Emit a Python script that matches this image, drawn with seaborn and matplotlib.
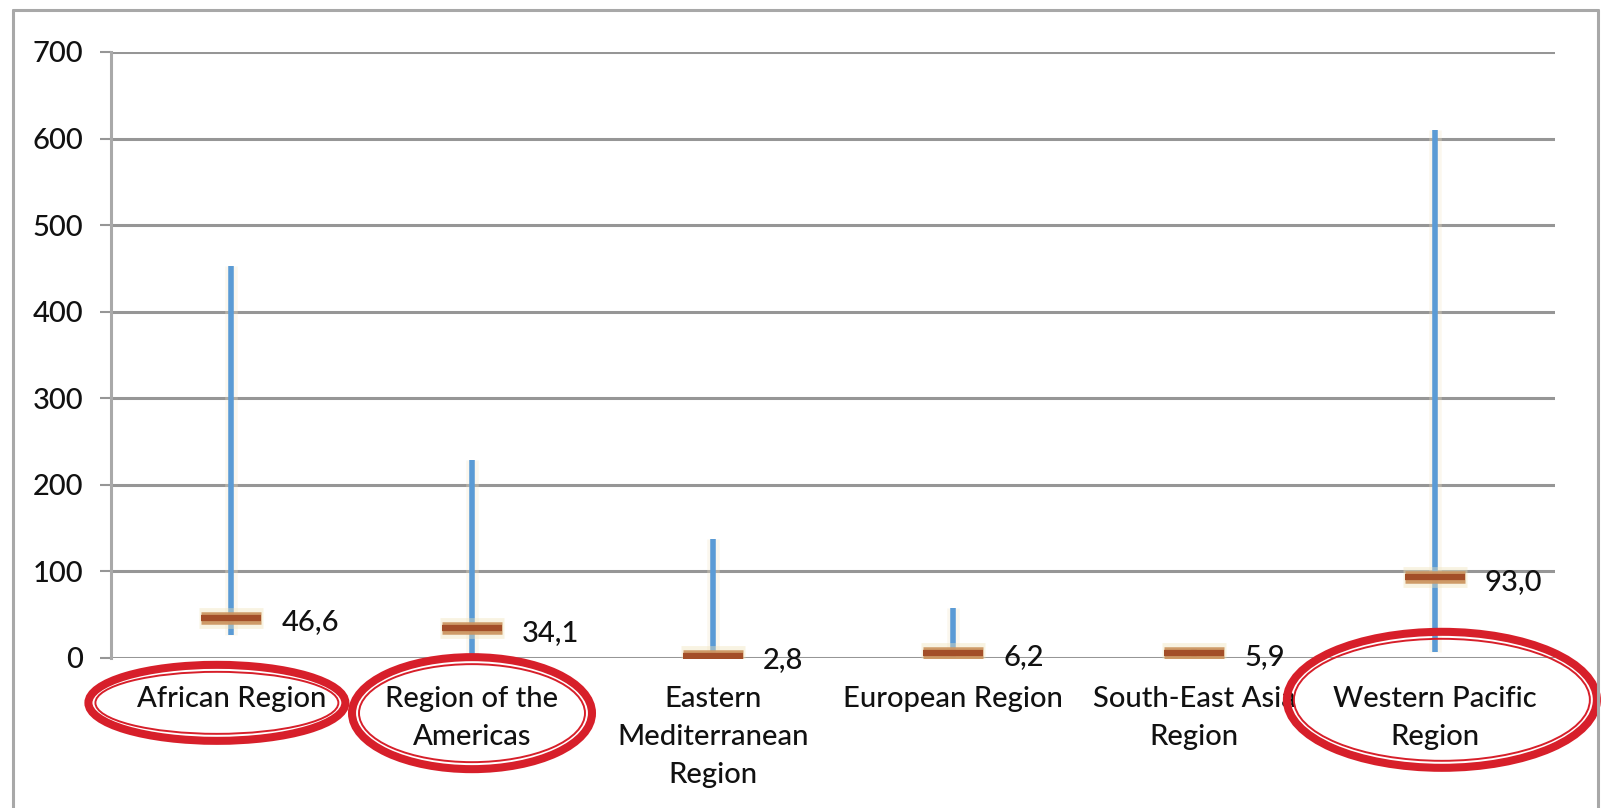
import matplotlib
matplotlib.use("Agg")
import matplotlib.pyplot as plt
import matplotlib.transforms as mtransforms
from matplotlib.patches import Ellipse
from matplotlib.lines import Line2D
import seaborn as sns
import pandas as pd

# Range (min-max) and median per WHO region
regions = ["African Region", "Region of the\nAmericas", "Eastern\nMediterranean\nRegion",
           "European Region", "South-East Asia\nRegion", "Western Pacific\nRegion"]
low_vals = [26, 5, 0.3, 0.5, 1.5, 7]
high_vals = [453, 229, 137, 58, 10, 610]
median_vals = [46.6, 34.1, 2.8, 6.2, 5.9, 93.0]
y_ticks = [0, 100, 200, 300, 400, 500, 600, 700]
highlighted = [0, 1, 5]

df = pd.DataFrame({"pos": range(len(regions)), "region": regions,
                   "low": low_vals, "high": high_vals, "median": median_vals})

sns.set_theme(style="white")
plt.rcParams["font.family"] = ["Lato", "DejaVu Sans"]
plt.rcParams["font.weight"] = "medium"

W, H = 1601, 808
fig = plt.figure(figsize=(W / 100, H / 100), dpi=100)
ax = fig.add_axes([111 / W, 1 - 658 / H, (1555 - 111) / W, (658 - 52) / H])

grid_c = "#969696"
txt_c = "#111111"
ax.set_xlim(-0.5, len(regions) - 0.5)
ax.set_ylim(0, 700)
ax.set_yticks(y_ticks)
ax.set_yticklabels([str(t) for t in y_ticks])
ax.yaxis.grid(True, color=grid_c, lw=2.2)
ax.set_axisbelow(True)
for s in ["top", "right", "bottom"]:
    ax.spines[s].set_visible(False)
ax.spines["left"].set_color("#a9a9a9")
ax.spines["left"].set_linewidth(2.2)

ax.set_xticks(df["pos"])
ax.set_xticklabels(df["region"], fontsize=21, color=txt_c)
for lbl in ax.get_xticklabels():
    lbl.set_linespacing(1.58)
ax.set_xticks([p + 0.5 for p in range(len(regions) - 1)], minor=True)
ax.tick_params(axis="x", which="major", length=0, pad=20)
ax.tick_params(axis="x", which="minor", length=5, width=1.5, color=grid_c, direction="out")
ax.tick_params(axis="y", length=8, width=1.5, color=grid_c, pad=12, labelsize=21,
               labelcolor=txt_c, left=True)

# Min-max range lines with a faint glow
ax.vlines(df["pos"], df["low"], df["high"], color="#f4e6c8", lw=9, alpha=0.3, zorder=2)
ax.vlines(df["pos"], df["low"], df["high"], color="#5b9bd5", lw=4, zorder=3)

# Median markers: layered strokes for the glowing bar
msize = 43 ** 2
sns.scatterplot(data=df, x="pos", y="median", marker="_", s=msize * 1.12, linewidth=15,
                color="#efe2b8", alpha=0.4, ax=ax, zorder=4, legend=False)
sns.scatterplot(data=df, x="pos", y="median", marker="_", s=msize, linewidth=9,
                color="#cc9560", alpha=0.95, ax=ax, zorder=5, legend=False)
sns.scatterplot(data=df, x="pos", y="median", marker="_", s=msize, linewidth=4.5,
                color="#a34e28", ax=ax, zorder=6, legend=False)
ax.set_xlabel("")
ax.set_ylabel("")

for p, m in zip(df["pos"], df["median"]):
    ax.annotate(f"{m:.1f}".replace(".", ","), xy=(p, m), xytext=(36, -3),
                textcoords="offset points", ha="left", va="center",
                fontsize=21, color=txt_c, zorder=7)

# Red double ellipses around highlighted region labels
blend = mtransforms.blended_transform_factory(ax.transData, ax.transAxes)
px_x = 1 / 240.7
px_y = 1 / 606
ell_spec = {0: (-0.06, -0.074, 265, 84), 1: (1.0, -0.091, 248, 120), 5: (5.03, -0.069, 318, 144)}
for idx in highlighted:
    cx, cy, w, h = ell_spec[idx]
    outer = Ellipse((cx, cy), (w - 8) * px_x, (h - 8) * px_y, transform=blend,
                    fill=False, ec="#d71f2a", lw=5.8, clip_on=False, zorder=8)
    inner = Ellipse((cx, cy), (w - 22) * px_x, (h - 22) * px_y, transform=blend,
                    fill=False, ec="#d71f2a", lw=1.4, clip_on=False, zorder=8)
    ax.add_patch(outer)
    ax.add_patch(inner)

# Chart frame
frame_c = "#a8a8a8"
x0, x1, y0 = 13 / W, 1598 / W, 1 - 10 / H
fig.add_artist(Line2D([x0, x1], [y0, y0], color=frame_c, lw=2.2))
fig.add_artist(Line2D([x0, x0], [0, y0], color=frame_c, lw=2.2))
fig.add_artist(Line2D([x1, x1], [0, y0], color=frame_c, lw=2.2))

fig.savefig("out.png", dpi=100, facecolor="white")
